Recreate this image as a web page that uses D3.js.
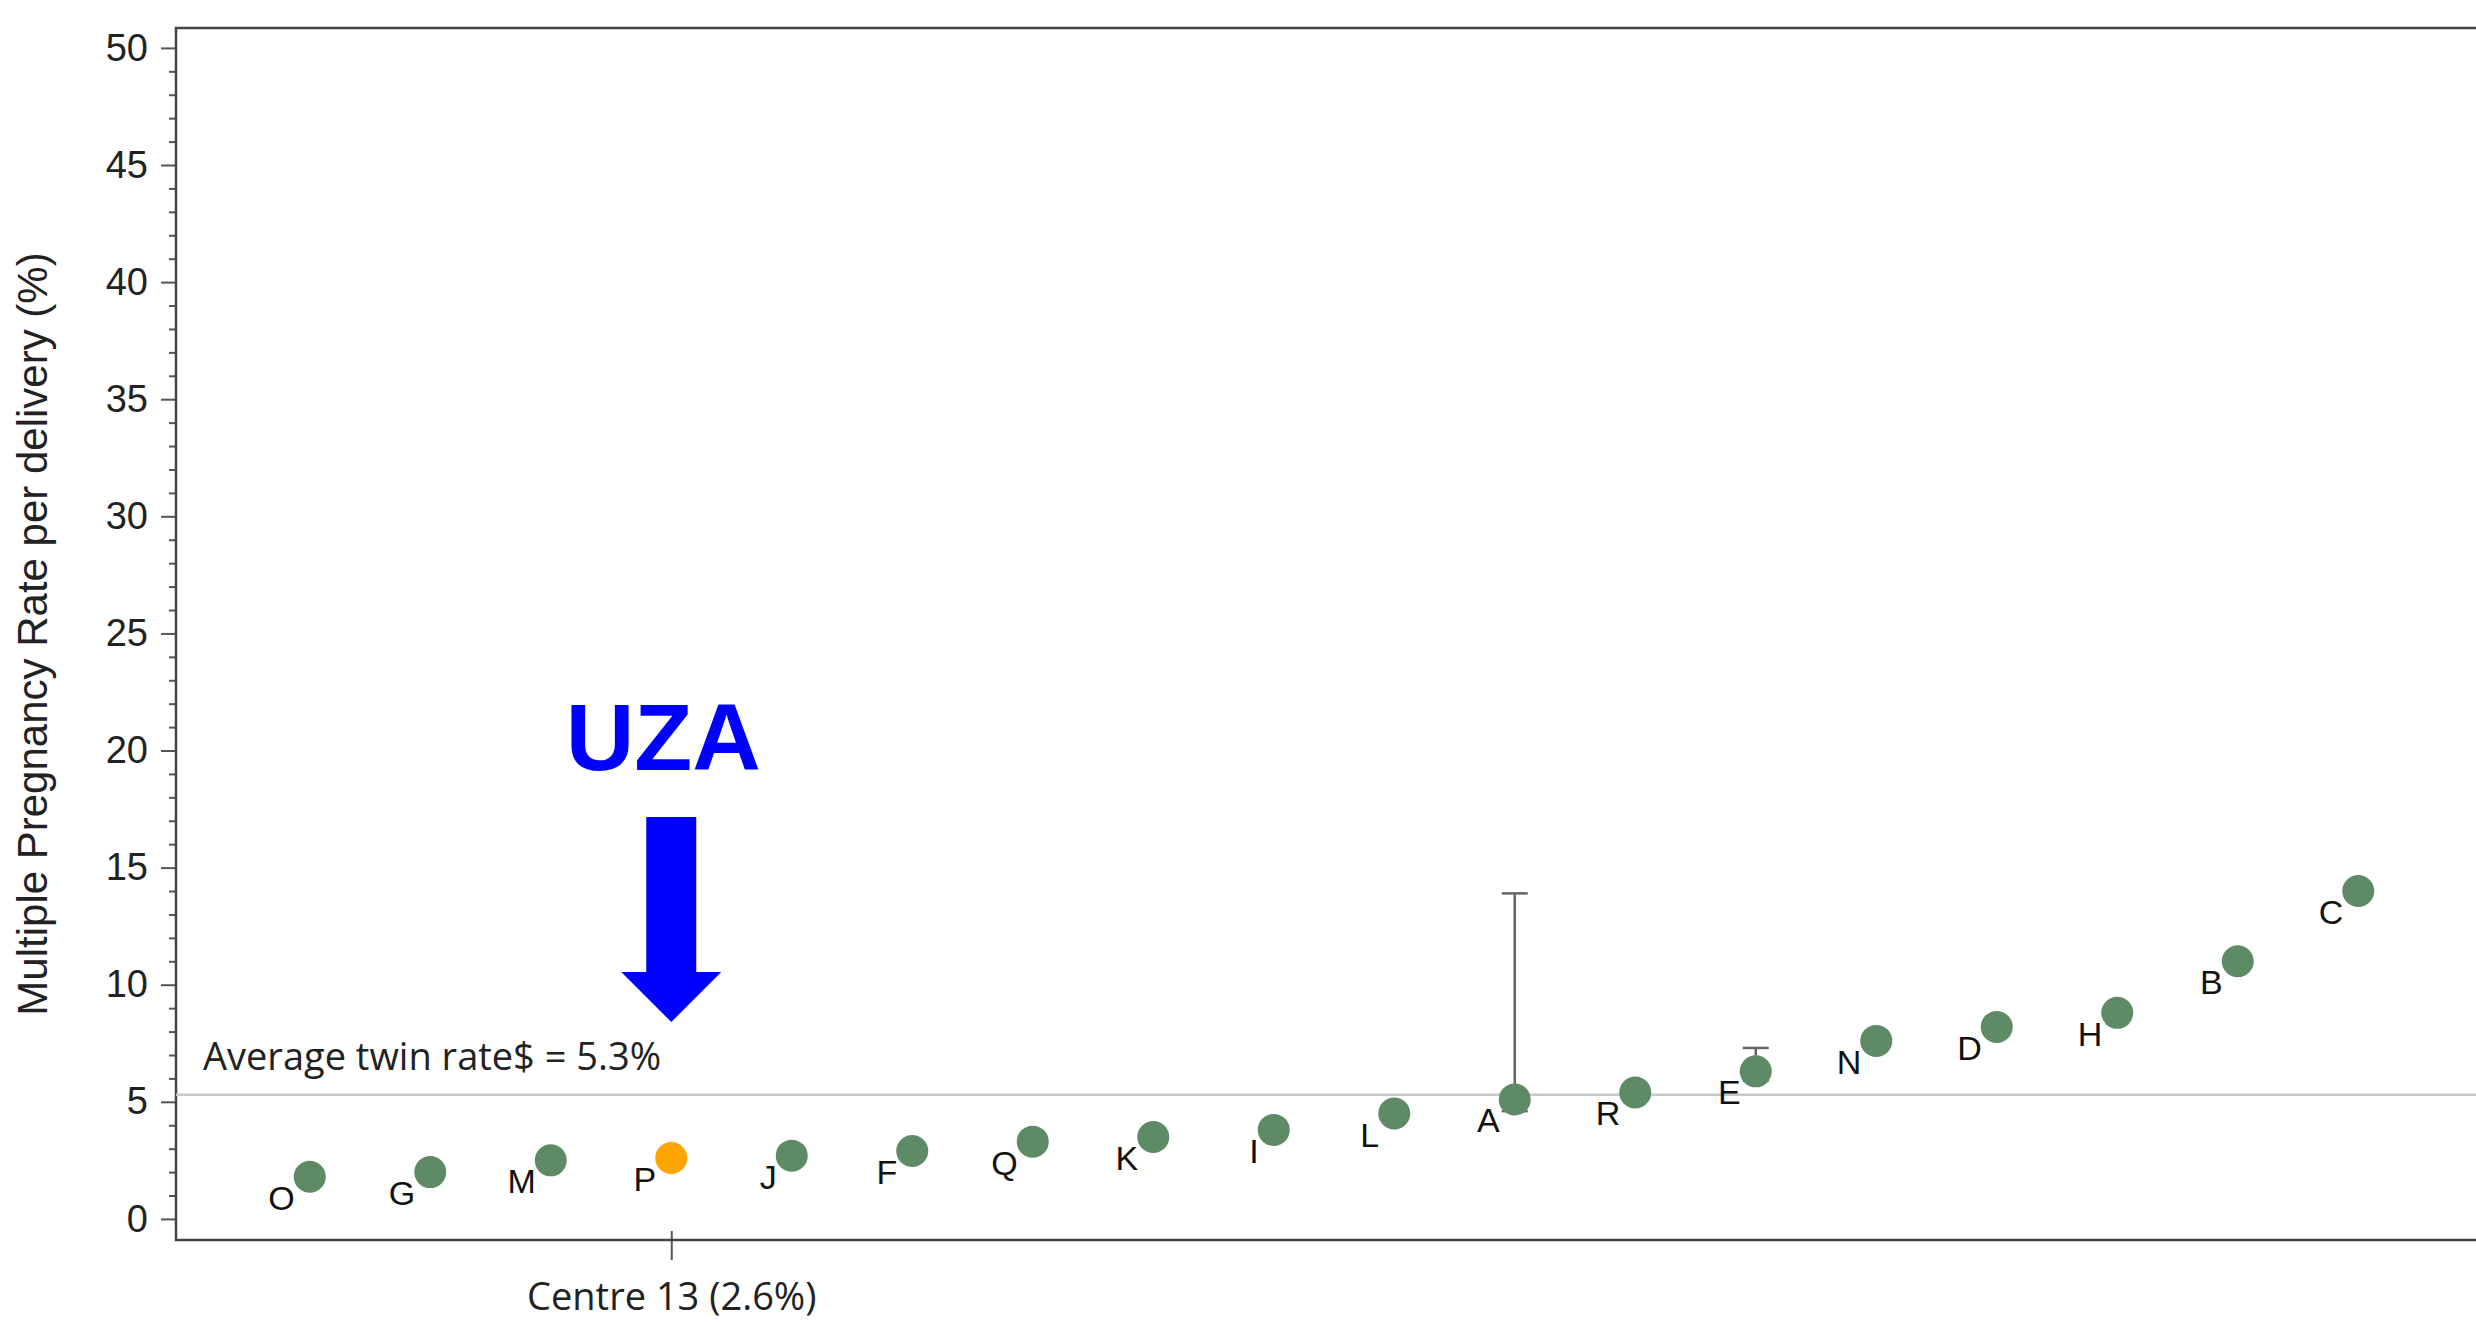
<!DOCTYPE html>
<html>
<head>
<meta charset="utf-8">
<script src="https://cdn.jsdelivr.net/npm/d3@7"></script>
<style>
  body { margin: 0; background: #fff; }
  svg { display: block; }
</style>
</head>
<body>
<svg width="2476" height="1323"></svg>
<script>
// centres sorted by multiple pregnancy rate (%)
var centres = ["O", "G", "M", "P", "J", "F", "Q", "K", "I", "L", "A", "R", "E", "N", "D", "H", "B", "C"];
var rates = [1.8, 2.0, 2.5, 2.6, 2.7, 2.9, 3.3, 3.5, 3.8, 4.5, 5.1, 5.4, 6.3, 7.6, 8.2, 8.8, 11.0, 14.0];

// confidence limits, only shown for a couple of centres
var errCentres = ["A", "E"];
var errLow = [4.6, 5.9];
var errHigh = [13.9, 7.3];

var highlight = "P";
var highlightLabel = "Centre 13 (2.6%)";
var avgRate = 5.3;
var avgLabel = "Average twin rate$ = 5.3%";
var yMajor = [0, 5, 10, 15, 20, 25, 30, 35, 40, 45, 50];
var yMinor = d3.range(0, 51, 1).filter(function(v) { return v % 5 != 0; });

var svg = d3.select("svg"),
  margin = { top: 28, right: 0, bottom: 83, left: 176 },
  width = 2316,
  height = +svg.attr("height") - margin.top - margin.bottom,
  g = svg.append("g")
    .attr("transform", "translate(" + margin.left + "," + margin.top + ")");

var x = d3.scalePoint().domain(centres).range([0, width]).padding(1.11);
var y = d3.scaleLinear().domain([-0.9, 50.85]).range([height, 0]);

var axisColor = "#555";

// y axis: major + minor ticks
var yAxis = g.append("g").attr("class", "yaxis")
  .call(d3.axisLeft(y).tickValues(yMajor).tickSize(15).tickPadding(13));
yAxis.select(".domain").remove();
yAxis.selectAll("line").attr("stroke", axisColor).attr("stroke-width", 2);
yAxis.selectAll("text")
  .attr("fill", "#222")
  .style("font-family", "'Liberation Sans', Arial, sans-serif")
  .style("font-size", "38px");

var yMinorAxis = g.append("g")
  .call(d3.axisLeft(y).tickValues(yMinor).tickSize(7).tickFormat(""));
yMinorAxis.select(".domain").remove();
yMinorAxis.selectAll("line").attr("stroke", axisColor).attr("stroke-width", 2);

// x axis: single tick for the highlighted centre
var xAxis = g.append("g").attr("class", "xaxis")
  .attr("transform", "translate(0," + height + ")")
  .call(d3.axisBottom(x).tickValues([highlight]).tickSize(20)
    .tickFormat(function() { return highlightLabel; }));
xAxis.select(".domain").remove();
xAxis.selectAll("line").attr("y1", -9).attr("stroke", axisColor).attr("stroke-width", 2);
xAxis.selectAll("text")
  .attr("y", 70).attr("dy", 0)
  .attr("fill", "#222")
  .style("font-family", "'Open Sans', sans-serif")
  .style("font-size", "38px");

// frame (left, top, bottom)
g.append("path")
  .attr("d", "M" + (width + 20) + ",0H0V" + height + "H" + (width + 20))
  .attr("fill", "none")
  .attr("stroke", "#444")
  .attr("stroke-width", 2.5);

// y title
svg.append("text")
  .attr("transform", "translate(47," + (margin.top + height / 2) + ") rotate(-90)")
  .attr("text-anchor", "middle")
  .attr("fill", "#222")
  .style("font-family", "'Liberation Sans', Arial, sans-serif")
  .style("font-size", "42px")
  .text("Multiple Pregnancy Rate per delivery (%)");

// average reference line
g.append("line")
  .attr("x1", 0).attr("x2", width + 20)
  .attr("y1", y(avgRate)).attr("y2", y(avgRate))
  .attr("stroke", "#c8c8c8").attr("stroke-width", 2.5);

g.append("text")
  .attr("x", 27).attr("y", y(avgRate) - 25)
  .attr("fill", "#222")
  .style("font-family", "'Open Sans', sans-serif")
  .style("font-size", "38px")
  .text(avgLabel);

// error bars
var errData = errCentres.map(function(c, i) {
  return { centre: c, low: errLow[i], high: errHigh[i] };
});
var eb = g.selectAll(".err").data(errData).enter().append("g").attr("class", "err")
  .attr("stroke", "#666").attr("stroke-width", 2.5);
eb.append("line")
  .attr("x1", function(d) { return x(d.centre); })
  .attr("x2", function(d) { return x(d.centre); })
  .attr("y1", function(d) { return y(d.low); })
  .attr("y2", function(d) { return y(d.high); });
eb.append("line")
  .attr("x1", function(d) { return x(d.centre) - 13; })
  .attr("x2", function(d) { return x(d.centre) + 13; })
  .attr("y1", function(d) { return y(d.high); })
  .attr("y2", function(d) { return y(d.high); });
eb.append("line")
  .attr("x1", function(d) { return x(d.centre) - 13; })
  .attr("x2", function(d) { return x(d.centre) + 13; })
  .attr("y1", function(d) { return y(d.low); })
  .attr("y2", function(d) { return y(d.low); });

// points
var pts = centres.map(function(c, i) { return { centre: c, rate: rates[i] }; });
g.selectAll(".dot").data(pts).enter().append("circle")
  .attr("class", "dot")
  .attr("cx", function(d) { return x(d.centre); })
  .attr("cy", function(d) { return y(d.rate); })
  .attr("r", 16)
  .attr("fill", function(d) { return d.centre == highlight ? "#ffa500" : "#5e8b65"; });

g.selectAll(".lbl").data(pts).enter().append("text")
  .attr("class", "lbl")
  .attr("x", function(d) { return x(d.centre) - 15; })
  .attr("y", function(d) { return y(d.rate) + 33; })
  .attr("text-anchor", "end")
  .attr("fill", "#111")
  .style("font-family", "'Liberation Sans', Arial, sans-serif")
  .style("font-size", "34px")
  .text(function(d) { return d.centre; });

// UZA annotation with arrow pointing at the highlighted centre
var ax = x(highlight);
g.append("text")
  .attr("x", ax - 8).attr("y", 742)
  .attr("text-anchor", "middle")
  .attr("fill", "#0000ff")
  .style("font-family", "'Liberation Sans', Arial, sans-serif")
  .style("font-weight", "bold")
  .style("font-size", "95px")
  .text("UZA");

g.append("path")
  .attr("d", "M" + (ax - 25) + ",789V944H" + (ax - 50) + "L" + ax + ",994L" + (ax + 50) + ",944H" + (ax + 25) + "V789Z")
  .attr("fill", "#0000ff");
</script>
</body>
</html>
